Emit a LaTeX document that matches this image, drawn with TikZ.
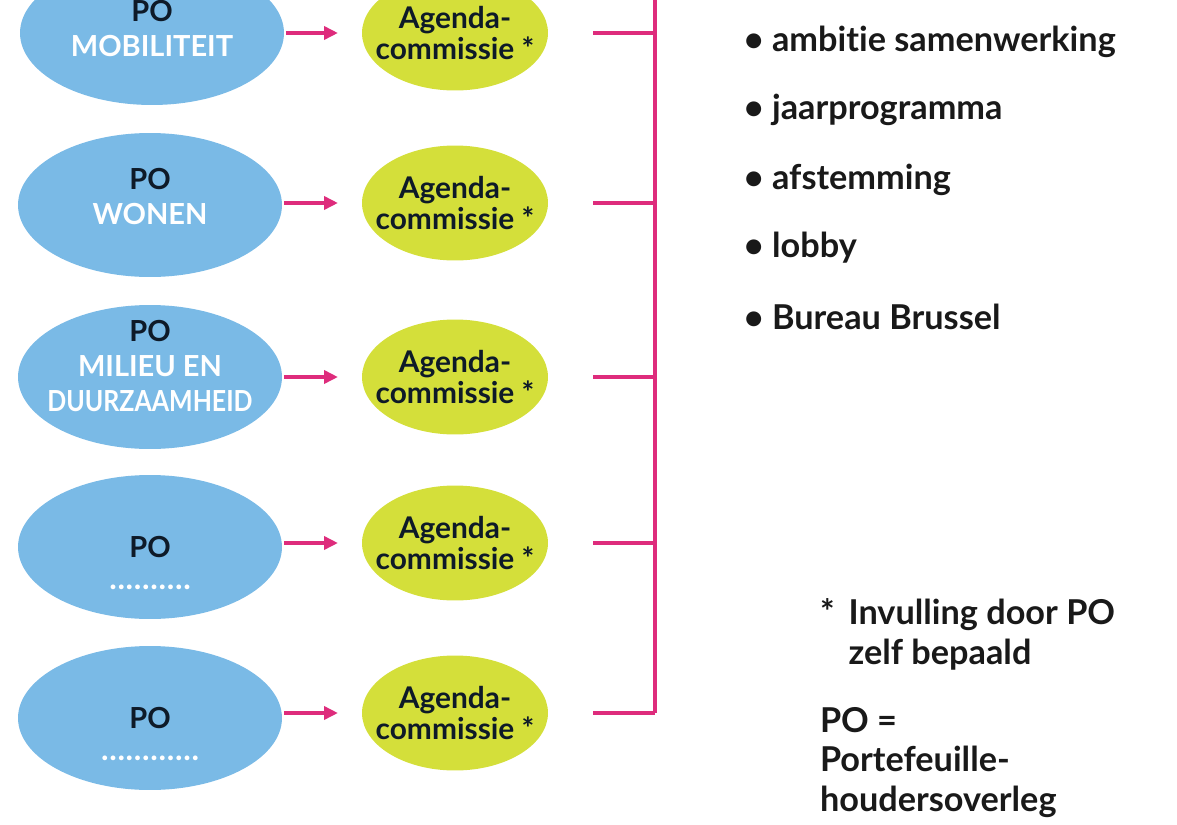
\documentclass[tikz,border=0pt]{standalone}
\usepackage{fontspec}
\setmainfont{Lato}[Ligatures=NoCommon]
\usetikzlibrary{shapes.geometric,arrows.meta}

\definecolor{poblue}{RGB}{122,186,230}
\definecolor{aglime}{RGB}{212,223,58}
\definecolor{linkpink}{RGB}{222,44,124}
\definecolor{ponavy}{RGB}{14,26,40}

% row of placeholder dots
\newcommand\dotrow[1]{\foreach \k in {1,...,#1}{.\hspace{0.4pt}}}
% agenda label, kept narrow so the ellipse keeps its size
\newcommand\agtext{\makebox[0pt]{Agenda-}\\\makebox[0pt]{commissie *}}
% extra depth to lift the text inside an ellipse
\newcommand\lift[1]{\rule[-#1]{0pt}{#1}}

\begin{document}
\begin{tikzpicture}[
    x=0.02cm, y=-0.02cm,
    line width=2.3pt,
    % Style for the portfolio ellipses
    po/.style={ellipse, fill=poblue, minimum width=5.28cm, minimum height=2.88cm,
        inner sep=0pt, align=center, text=white,
        font=\fontsize{16.5}{20}\selectfont\bfseries},
    podots/.style={text=white, inner sep=0pt, yshift=-0.8cm,
        font=\fontsize{18}{18}\selectfont\bfseries},
    % Style for the agenda ellipses
    agenda/.style={ellipse, fill=aglime, minimum width=3.72cm, minimum height=2.3cm,
        inner sep=0pt, align=center, text=ponavy,
        font=\fontsize{17}{17.8}\selectfont\bfseries},
    feed/.style={draw=linkpink, -{Triangle[length=0.28cm,width=0.26cm]}, shorten >=0.44cm},
    bar/.style={draw=linkpink},
    listtext/.style={anchor=west, font=\fontsize{19.5}{23}\selectfont\bfseries, text=black!90},
    notetext/.style={anchor=north west, align=left, inner sep=0pt,
        font=\fontsize{19.5}{22.5}\selectfont\bfseries, text=black!90}
]
    \useasboundingbox (0,0) rectangle (1177,825);

    % ==========================
    % Portfolio ellipses
    % ==========================
    \node[po] (po1) at (152,33)  {\textcolor{ponavy}{PO}\\MOBILITEIT\lift{5pt}};
    \node[po] (po2) at (150,205) {\textcolor{ponavy}{PO}\\WONEN\lift{10pt}};
    \node[po, inner ysep=-0.4cm] (po3) at (150,377) {\textcolor{ponavy}{PO}\\MILIEU EN\\
        \makebox[0pt]{\scalebox{0.86}[1]{DUURZAAMHEID}}\lift{13pt}};
    \node[po, label={[podots]center:\dotrow{10}}] (po4) at (150,547) {\textcolor{ponavy}{PO}};
    \node[po, label={[podots]center:\dotrow{12}}] (po5) at (150,718) {\textcolor{ponavy}{PO}};

    % ==========================
    % Agenda committees
    % ==========================
    \node[agenda] (ag1) at (455,33)  {\agtext};
    \node[agenda] (ag2) at (455,203) {\agtext};
    \node[agenda] (ag3) at (455,377) {\agtext};
    \node[agenda] (ag4) at (455,543) {\agtext};
    \node[agenda] (ag5) at (455,713) {\agtext};

    % ==========================
    % Arrows and bracket
    % ==========================
    \coordinate (spinetop) at (655,-10);
    \foreach \i/\yy in {1/33,2/203,3/377,4/543,5/713} {
        \draw[feed] (po\i.east |- ag\i.west) -- (ag\i.west);
        \coordinate (tick\i) at (593,\yy);
        \coordinate (spine\i) at (655,\yy);
        \draw[bar] (tick\i) -- (spine\i);
    }
    \draw[bar] (spinetop) -- (spine5);

    % ==========================
    % Topics list
    % ==========================
    \node[listtext] (t1) at (736,42)  {\textbullet\ ambitie samenwerking};
    \node[listtext] (t2) at (736,110) {\textbullet\ jaarprogramma};
    \node[listtext] (t3) at (736,180) {\textbullet\ afstemming};
    \node[listtext] (t4) at (736,248) {\textbullet\ lobby};
    \node[listtext] (t5) at (736,317) {\textbullet\ Bureau Brussel};

    % ==========================
    % Notes
    % ==========================
    \node[notetext] (note) at (818,597) {*\hspace{0.28cm}Invulling door PO\\\phantom{*}\hspace{0.28cm}zelf bepaald};
    \node[notetext] (legend) at (818,705) {PO =\\Portefeuille-\\houdersoverleg};

\end{tikzpicture}
\end{document}
